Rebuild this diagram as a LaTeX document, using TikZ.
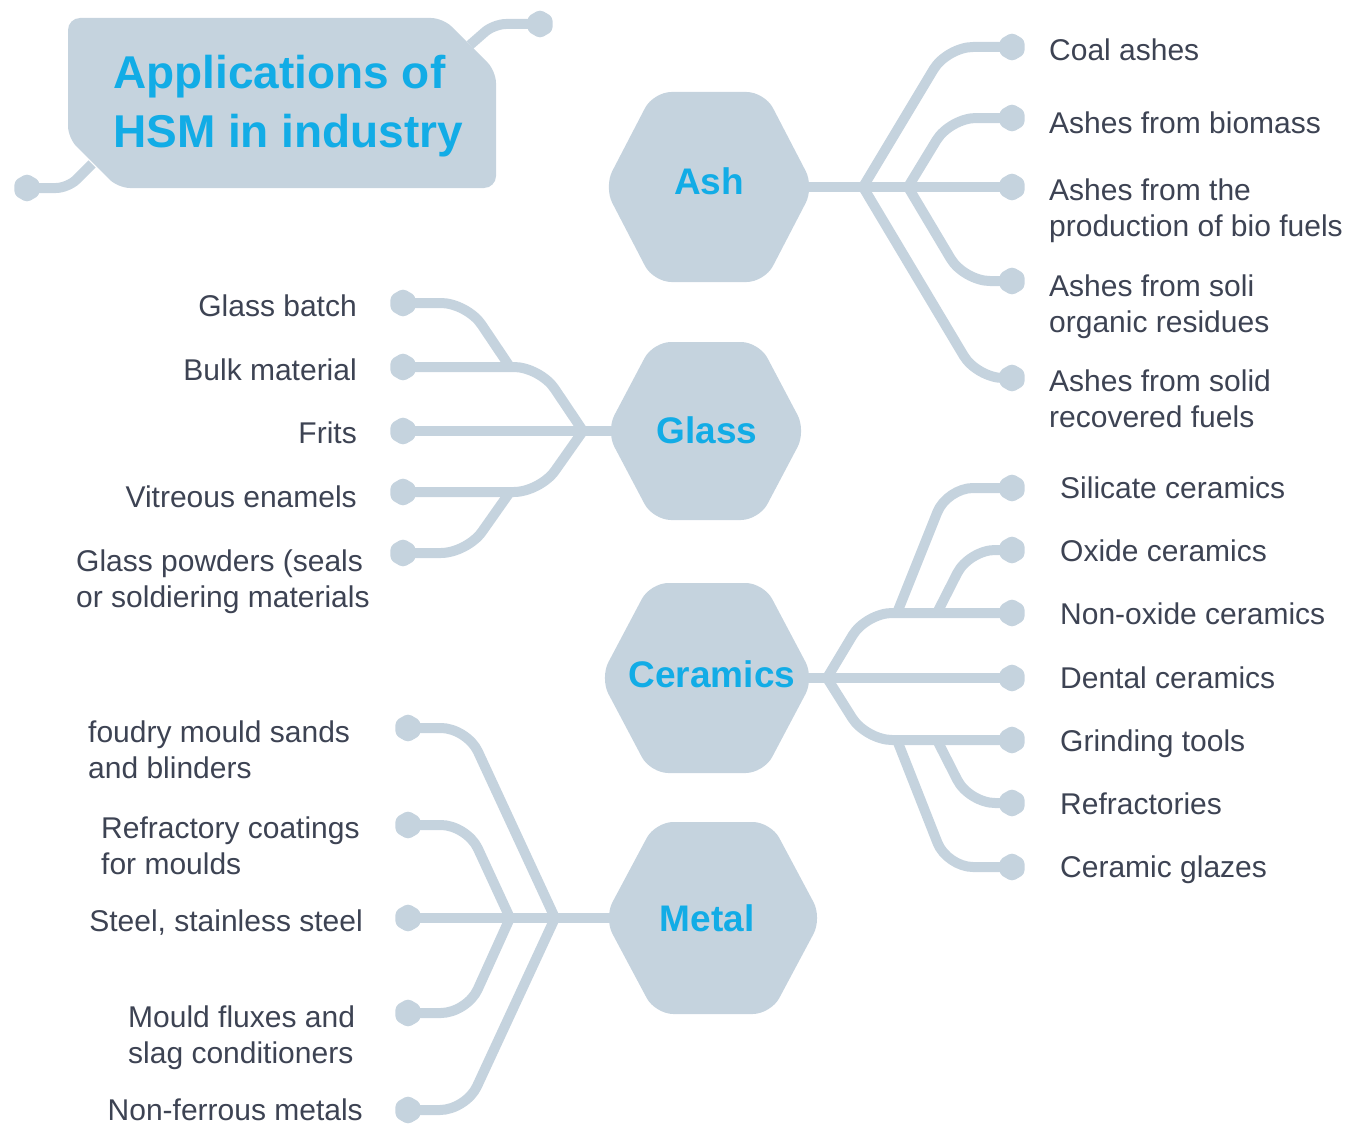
\documentclass[tikz,border=0pt]{standalone}
\usepackage{fontspec}
\setmainfont{Liberation Sans}
\usetikzlibrary{shapes.geometric}
\definecolor{hexc}{HTML}{C5D3DE}
\definecolor{cyanT}{HTML}{12ACE6}
\definecolor{txt}{HTML}{3D4353}
\pgfdeclarelayer{bg}
\pgfsetlayers{bg,main}
\newcommand{\drawhex}[4]{%
  \fill[hexbody] (#1-#3,#2) -- (#1-0.53*#3,#2-#4) -- (#1+0.53*#3,#2-#4) -- (#1+#3,#2)
    -- (#1+0.53*#3,#2+#4) -- (#1-0.53*#3,#2+#4) -- cycle;}
\begin{document}
\begin{tikzpicture}[x=1pt,y=-1pt,
  conn/.style={draw=hexc, line width=10pt, rounded corners=26pt},
  dot/.style={regular polygon, regular polygon sides=6, shape border rotate=30, fill=hexc,
    minimum size=29pt, inner sep=0pt, rounded corners=4pt},
  lbl/.style={text=txt, font=\fontsize{30}{36.5}\selectfont, inner sep=0pt, align=left},
  rlbl/.style={text=txt, font=\fontsize{30}{36.5}\selectfont, inner sep=0pt, align=right, anchor=base east},
  hexlbl/.style={text=cyanT, font=\bfseries\fontsize{37}{44}\selectfont, inner sep=0pt, anchor=base},
  hexbody/.style={fill=hexc, rounded corners=18pt}]
\useasboundingbox (0,0) rectangle (1361,1124);

% ---------- named points ----------
\coordinate (Ash) at (709,187);
\coordinate (Glass) at (706,431);
\coordinate (Cer) at (707,678);
\coordinate (Met) at (713,918);
\coordinate (bA1) at (863,187);
\coordinate (bA2) at (908,187);
\coordinate (bG) at (583,431);
\coordinate (bG2) at (510,367);
\coordinate (bG3) at (510,492);
\coordinate (bC) at (827,678);
\coordinate (bC2) at (897,613);
\coordinate (bC3) at (937,613);
\coordinate (bC4) at (937,740);
\coordinate (bC5) at (897,740);
\coordinate (bM1) at (555,918);
\coordinate (bM2) at (510,918);
\coordinate (tc1) at (470,45);
\coordinate (tc2) at (92,164);

% ---------- dots ----------
\node[dot] (dT1) at (540,24) {};
\node[dot] (dT2) at (27,188) {};
\node[dot] (dA1) at (1012,47) {};
\node[dot] (dA2) at (1012,118) {};
\node[dot] (dA3) at (1012,187) {};
\node[dot] (dA4) at (1012,281) {};
\node[dot] (dA5) at (1012,378) {};
\node[dot] (dG1) at (403,303) {};
\node[dot] (dG2) at (403,367) {};
\node[dot] (dG3) at (403,431) {};
\node[dot] (dG4) at (403,492) {};
\node[dot] (dG5) at (403,553) {};
\node[dot] (dC1) at (1012,488) {};
\node[dot] (dC2) at (1012,550) {};
\node[dot] (dC3) at (1012,613) {};
\node[dot] (dC4) at (1012,678) {};
\node[dot] (dC5) at (1012,740) {};
\node[dot] (dC6) at (1012,803) {};
\node[dot] (dC7) at (1012,867) {};
\node[dot] (dM1) at (408,728) {};
\node[dot] (dM2) at (408,825) {};
\node[dot] (dM3) at (408,918) {};
\node[dot] (dM4) at (408,1013) {};
\node[dot] (dM5) at (408,1110) {};

% ---------- connectors (behind) ----------
\begin{pgfonlayer}{bg}
\draw[conn, rounded corners=12pt] (tc1) -- (494,24) -- (dT1.center);
\draw[conn, rounded corners=12pt] (tc2) -- (68,188) -- (dT2.center);

\draw[conn] (Ash) -- (dA3.center);
\draw[conn] (bA1) -- (947,47) -- (dA1.center);
\draw[conn] (bA2) -- (950,118) -- (dA2.center);
\draw[conn] (bA2) -- (964,281) -- (dA4.center);
\draw[conn] (bA1) -- (977,378) -- (dA5.center);

\draw[conn] (Glass) -- (dG3.center);
\draw[conn] (bG) -- (540,367) -- (dG2.center);
\draw[conn] (bG) -- (540,492) -- (dG4.center);
\draw[conn] (bG2) -- (467,303) -- (dG1.center);
\draw[conn] (bG3) -- (467,553) -- (dG5.center);

\draw[conn] (Cer) -- (dC4.center);
\draw[conn] (bC) -- (866,613) -- (dC3.center);
\draw[conn] (bC) -- (866,740) -- (dC5.center);
\draw[conn] (bC2) -- (947,488) -- (dC1.center);
\draw[conn] (bC3) -- (969,550) -- (dC2.center);
\draw[conn] (bC4) -- (969,803) -- (dC6.center);
\draw[conn] (bC5) -- (947,867) -- (dC7.center);

\draw[conn] (Met) -- (dM3.center);
\draw[conn] (bM1) -- (467,728) -- (dM1.center);
\draw[conn] (bM2) -- (467,825) -- (dM2.center);
\draw[conn] (bM2) -- (467,1013) -- (dM4.center);
\draw[conn] (bM1) -- (466,1110) -- (dM5.center);
\end{pgfonlayer}

% ---------- title box ----------
\fill[hexc, rounded corners=12pt] (68,18) -- (443,18) -- (496,71) -- (496,188) -- (118,188) -- (68,138) -- cycle;
\node[anchor=base west, text=cyanT, font=\bfseries\fontsize{46}{59}\selectfont, inner sep=0pt, align=left]
  (title) at (113,147) {Applications of\\HSM in industry};

% ---------- hexagons ----------
\drawhex{709}{187}{105}{95}
\drawhex{706}{431}{100}{89}
\drawhex{707}{678}{107}{95}
\drawhex{713}{918}{109}{96}
\node[hexlbl] (tAsh) at (709,194) {Ash};
\node[hexlbl] (tGlass) at (707,443) {Glass};
\node[hexlbl] (tCer) at (712,687) {Ceramics};
\node[hexlbl] (tMet) at (707,931) {Metal};

% ---------- labels: Ash ----------
\node[lbl, anchor=base west] (lA1) at (1049,61) {Coal ashes};
\node[lbl, anchor=base west] (lA2) at (1049,133) {Ashes from biomass};
\node[lbl, anchor=base west] (lA3) at (1049,236.5) {Ashes from the\\production of bio fuels};
\node[lbl, anchor=base west] (lA4) at (1049,332.5) {Ashes from soli\\organic residues};
\node[lbl, anchor=base west] (lA5) at (1049,427.5) {Ashes from solid\\recovered fuels};

% ---------- labels: Glass ----------
\node[rlbl] (lG1) at (357,316) {Glass batch};
\node[rlbl] (lG2) at (357,380) {Bulk material};
\node[rlbl] (lG3) at (357,443) {Frits};
\node[rlbl] (lG4) at (357,507) {Vitreous enamels};
\node[lbl, anchor=base west] (lG5) at (76,607.5) {Glass powders (seals\\or soldiering materials};

% ---------- labels: Ceramics ----------
\node[lbl, anchor=base west] (lC1) at (1060,498) {Silicate ceramics};
\node[lbl, anchor=base west] (lC2) at (1060,561) {Oxide ceramics};
\node[lbl, anchor=base west] (lC3) at (1060,624) {Non-oxide ceramics};
\node[lbl, anchor=base west] (lC4) at (1060,688) {Dental ceramics};
\node[lbl, anchor=base west] (lC5) at (1060,751) {Grinding tools};
\node[lbl, anchor=base west] (lC6) at (1060,814) {Refractories};
\node[lbl, anchor=base west] (lC7) at (1060,877) {Ceramic glazes};

% ---------- labels: Metal ----------
\node[lbl, anchor=base west] (lM1) at (88,778.5) {foudry mould sands\\and blinders};
\node[lbl, anchor=base west] (lM2) at (101,874.5) {Refractory coatings\\for moulds};
\node[rlbl] (lM3) at (363,931) {Steel, stainless steel};
\node[lbl, anchor=base west] (lM4) at (128,1063.5) {Mould fluxes and\\slag conditioners};
\node[rlbl] (lM5) at (363,1120) {Non-ferrous metals};
\end{tikzpicture}
\end{document}
